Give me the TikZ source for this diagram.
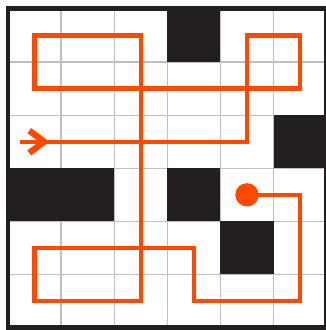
\documentclass[tikz,border=0pt]{standalone}
\usetikzlibrary{arrows.meta}
\definecolor{mazeorange}{RGB}{255,72,0}
\definecolor{mazeblack}{RGB}{35,31,32}
\definecolor{mazegray}{RGB}{190,190,196}
\tikzset{
	gridline/.style={mazegray, line width=0.7pt}
}
\tikzset{
	wall/.style={fill=mazeblack}
}
\tikzset{
	route/.style={mazeorange, line width=2.3pt, line join=miter}
}

\begin{document}
\begin{tikzpicture}
      \useasboundingbox (-0.1507,-0.0452) rectangle (5.970,6.1695);
      \draw[gridline] (0,0) grid (6,6);
      \foreach \c/\r in {3/5, 5/3, 0/2, 1/2, 3/2, 4/1}
        \fill[wall] (\c,\r) rectangle ++(1,1);
      \draw[mazeblack, line width=2.67pt] (0,0) rectangle (6,6);
      % route through the maze
      \coordinate (start) at (0.226,3.5);
      \coordinate (tip) at (0.78,3.5);
      \coordinate (goal) at (4.5,2.5);
      \draw[route] (start) -- (4.5,3.5) -- (4.5,5.5) -- (5.5,5.5) -- (5.5,4.5)
        -- (0.5,4.5) -- (0.5,5.5) -- (2.5,5.5) -- (2.5,0.5) -- (0.5,0.5)
        -- (0.5,1.5) -- (3.5,1.5) -- (3.5,0.5) -- (5.5,0.5) -- (5.5,2.5) -- (goal);
      \draw[route, -{Straight Barb[length=2.8mm, width=4.2mm, line width=3.4pt 0]}] (start) -- (tip);
      \fill[mazeorange] (goal) circle (0.22);
\end{tikzpicture}
\end{document}
